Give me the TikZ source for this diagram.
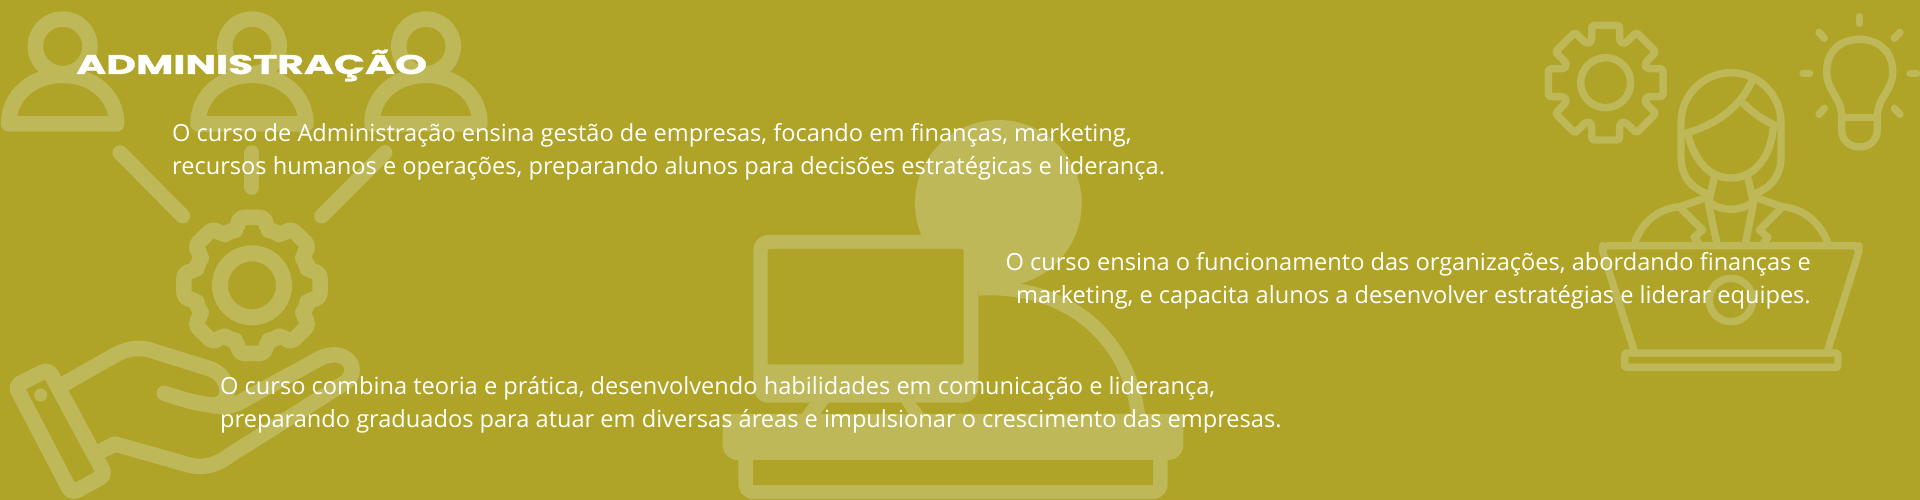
\documentclass[tikz,border=0pt]{standalone}
\usepackage{fontspec}
\setmainfont{Open Sans}
\newfontfamily\titlefont[BoldFeatures={FakeBold=1}]{Poppins}
\definecolor{bgc}{HTML}{AFA428}
\definecolor{icn}{HTML}{BFB858}
\tikzset{
  ic/.style={draw=icn,line width=#1,line join=round,line cap=round},
  ic/.default=15.5,
  icf/.style={fill=icn,draw=none},
  body/.style={text=white,font=\fontsize{23.6}{33}\selectfont,inner sep=0pt},
  zoomA/.style={x=0.33333pt,y=-0.33333pt},
  zoomB/.style={shift={(700pt,-100pt)},x=0.33333pt,y=-0.33333pt},
  zoomC/.style={shift={(1520pt,0pt)},x=0.33333pt,y=-0.33333pt}
}
\begin{document}
\begin{tikzpicture}[x=1pt,y=-1pt]
\useasboundingbox (0,0) rectangle (1920,500);
\fill[bgc] (0,0) rectangle (1920,500);

% left: people, rays, gear, hand (coordinates as 3x px)
\begin{scope}[zoomA]
 \foreach \c in {188,756,1278}{
  \begin{scope}[shift={(\c,0)}]
   \draw[ic=15.5] (0,139) circle[radius=82];
   \draw[ic=15.5] (-162,372) .. controls (-162,285) and (-90,226) .. (0,226) .. controls (90,226) and (162,285) .. (162,372) -- cycle;
  \end{scope}
 }
 \draw[ic=15] (360,458) -- (548,648);
 \draw[ic=15] (756,458) -- (756,562);
 \draw[ic=15] (1155,458) -- (965,648);
 \draw[ic=16] (756,856) circle[radius=96];
 \begin{scope}[shift={(756,856)}]
  \draw[ic=15.5,rounded corners=6pt] (-15:172) \foreach \a in {0,45,...,315}{ -- (\a-15:172) -- (\a-11:208) -- (\a+11:208) -- (\a+15:172) -- (\a+22.5:176)} -- cycle;
 \end{scope}
 % cuff
 \draw[ic=15.5,rounded corners=6pt] (46,1157) -- (145,1108) -- (316,1425) -- (215,1480) -- cycle;
 \fill[icn] (122,1185) circle[radius=19.5];
 % hand
 \draw[ic=15.5] (195,1150) -- (340,1068) .. controls (375,1048) and (415,1035) .. (465,1055) -- (620,1103) .. controls (690,1120) and (705,1210) .. (640,1215) .. controls (590,1212) and (540,1195) .. (493,1180);
 \draw[ic=15.5] (640,1217) .. controls (680,1225) and (710,1215) .. (740,1195) -- (960,1075) .. controls (1030,1040) and (1085,1100) .. (1040,1145) -- (690,1365) .. controls (650,1395) and (610,1408) .. (560,1393) -- (345,1332) -- (305,1352);
\end{scope}

% middle: person at monitor
\begin{scope}[zoomB]
 \fill[icn] (895,310) circle[radius=250];
 \draw[ic=14,line cap=butt] (835,566) .. controls (1120,550) and (1290,730) .. (1315,950);
 \fill[icn,rounded corners=15pt] (160,405) rectangle (835,908);
 \fill[bgc,rounded corners=1.5pt] (203,447) rectangle (791,793);
 \fill[icn] (335,900) -- (392,900) -- (355,950) -- (300,950) -- cycle;
 \fill[icn] (600,900) -- (640,900) -- (680,950) -- (630,950) -- cycle;
 \fill[icn,rounded corners=15pt] (115,1000) rectangle (1403,1197);
 \fill[icn,rounded corners=15pt] (68,942) -- (68,1080) -- (1450,1080) -- (1450,942) -- cycle;
 \fill[icn] (68,942) rectangle (120,1000);
 \fill[icn] (1400,942) rectangle (1450,1000);
 \fill[bgc] (158,1080) rectangle (1360,1155);
\end{scope}

% right: gear, bulb, woman, laptop
\begin{scope}[zoomC]
 \draw[ic=7.4] (257,248) circle[radius=75];
 \begin{scope}[shift={(257,248)}]
  \draw[ic=7.4,rounded corners=2.5pt] (-19:130) \foreach \a in {0,45,...,315}{ -- (\a-19:130) -- (\a-13.5:177) -- (\a+13.5:177) -- (\a+19:130)} -- cycle;
 \end{scope}
 % bulb
 \draw[ic=7.4] (965,352) .. controls (965,290) and (920,275) .. (920,215) .. controls (920,155) and (960,118) .. (1018,118) .. controls (1076,118) and (1118,155) .. (1118,215) .. controls (1118,275) and (1072,290) .. (1072,352) -- (1072,390) .. controls (1072,420) and (1048,441) .. (1018,441) .. controls (988,441) and (965,420) .. (965,390) -- cycle;
 \draw[ic=7.4] (965,352) -- (1072,352);
 \draw[ic=7.4] (1018,50) -- (1018,70);
 \draw[ic=7.4] (849,220) -- (869,220);
 \draw[ic=7.4] (1170,220) -- (1190,220);
 \draw[ic=7.4] (897,97) -- (913,115);
 \draw[ic=7.4] (1140,97) -- (1123,115);
 \draw[ic=7.4] (897,343) -- (913,325);
 \draw[ic=7.4] (1140,343) -- (1123,325);
 % woman
 \draw[ic=7.4] (565,582) .. controls (510,565) and (483,525) .. (483,470) -- (483,368) .. controls (483,285) and (550,218) .. (633,218) .. controls (716,218) and (783,285) .. (783,368) -- (783,470) .. controls (783,525) and (755,565) .. (700,582);
 \draw[ic=7.4] (695,245) .. controls (660,320) and (590,375) .. (490,402);
 \draw[ic=7.4] (672,312) .. controls (700,340) and (735,365) .. (772,378);
 \draw[ic=7.4] (505,405) .. controls (515,460) and (555,515) .. (590,525) .. controls (615,537) and (650,537) .. (675,525) .. controls (715,510) and (755,460) .. (760,378);
 \draw[ic=7.4] (583,530) -- (567,605) .. controls (600,635) and (665,635) .. (700,605) -- (683,530);
 \draw[ic=7.4] (345,725) .. controls (370,660) and (420,625) .. (480,620) -- (567,590);
 \draw[ic=7.4] (922,725) .. controls (895,660) and (845,625) .. (785,620) -- (700,590);
 \draw[ic=7.4] (483,625) -- (548,690) -- (522,712) -- (535,727);
 \draw[ic=7.4] (783,625) -- (718,690) -- (744,712) -- (731,727);
 \draw[ic=7.4] (565,610) -- (590,727);
 \draw[ic=7.4] (700,610) -- (677,727);
 % laptop
 \draw[ic=7.4,rounded corners=6pt] (345,1060) -- (248,755) -- (248,737) -- (1017,737) -- (1017,755) -- (920,1060);
 \draw[ic=7.4] (633,900) circle[radius=65];
 \draw[ic=7.4,rounded corners=2pt] (314,1059) rectangle (954,1102);
\end{scope}

\node[anchor=base west,inner sep=0pt,text=white,xscale=1.51] (title) at (76,74) {\titlefont\bfseries\fontsize{27}{27}\selectfont ADMINISTRAÇÃO};

\node[body,anchor=base west,align=left] (p1) at (172,175) {O curso de Administração ensina gestão de empresas, focando em finanças, marketing,\\recursos humanos e operações, preparando alunos para decisões estratégicas e liderança.};
\node[body,anchor=base east,align=right] (p2) at (1811,303) {O curso ensina o funcionamento das organizações, abordando finanças e\\marketing, e capacita alunos a desenvolver estratégias e liderar equipes.};
\node[body,anchor=base west,align=left] (p3) at (220,427) {O curso combina teoria e prática, desenvolvendo habilidades em comunicação e liderança,\\preparando graduados para atuar em diversas áreas e impulsionar o crescimento das empresas.};
\end{tikzpicture}
\end{document}
